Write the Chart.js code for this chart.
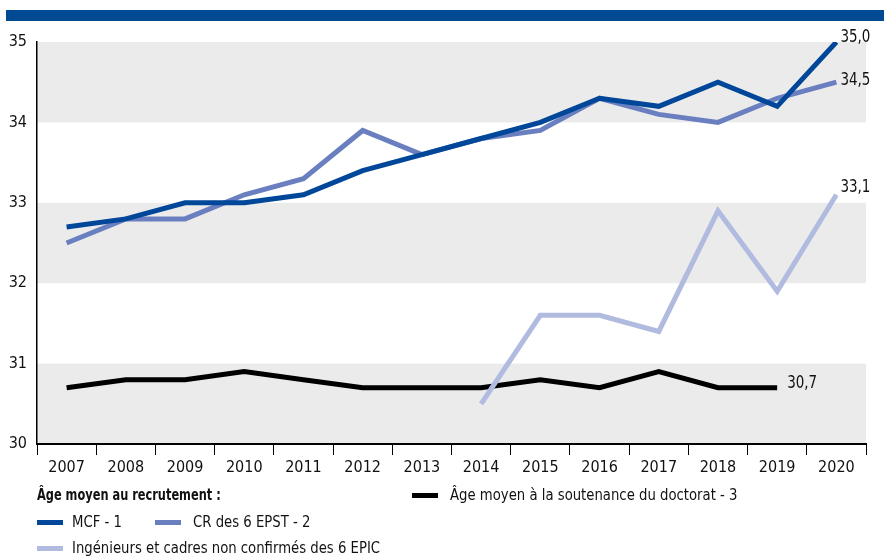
<!DOCTYPE html>
<html>
<head>
<meta charset="utf-8">
<script src="https://cdn.jsdelivr.net/npm/chart.js@4.4.1/dist/chart.umd.min.js"></script>
<style>
  body { margin:0; width:884px; height:557px; position:relative; overflow:hidden; background:#fff;
         font-family:'DejaVu Sans Condensed','Liberation Sans Narrow',sans-serif; color:#111; }
  #topbar { position:absolute; left:6px; top:10px; width:878px; height:11px; background:#004a94; }
  #c { position:absolute; left:0; top:0; }
  .lg { position:absolute; font-size:16px; line-height:20px; white-space:nowrap; transform-origin:0 50%; transform:scaleX(0.92); }
  .lg.b { font-weight:bold; transform:scaleX(0.79); }
  .sw { position:absolute; width:26px; height:5px; }
</style>
</head>
<body>
<div id="topbar"></div>
<canvas id="c" width="884" height="557"></canvas>

<div class="lg b" style="left:37px;top:485px;">Âge moyen au recrutement :</div>
<div class="sw" style="left:412px;top:493px;background:#000;"></div>
<div class="lg" style="left:450px;top:485px;">Âge moyen à la soutenance du doctorat - 3</div>

<div class="sw" style="left:37px;top:520px;background:#00479a;"></div>
<div class="lg" style="left:72px;top:512px;">MCF - 1</div>
<div class="sw" style="left:155px;top:520px;background:#6a7fc0;"></div>
<div class="lg" style="left:193px;top:512px;">CR des 6 EPST - 2</div>

<div class="sw" style="left:37px;top:546px;background:#b1badf;"></div>
<div class="lg" style="left:72px;top:538px;">Ingénieurs et cadres non confirmés des 6 EPIC</div>

<script>
const years = ['2007','2008','2009','2010','2011','2012','2013','2014','2015','2016','2017','2018','2019','2020'];
const mcf        = [32.7, 32.8, 33.0, 33.0, 33.1, 33.4, 33.6, 33.8, 34.0, 34.3, 34.2, 34.5, 34.2, 35.0];
const crEpst     = [32.5, 32.8, 32.8, 33.1, 33.3, 33.9, 33.6, 33.8, 33.9, 34.3, 34.1, 34.0, 34.3, 34.5];
const ingEpic    = [null, null, null, null, null, null, null, 30.5, 31.6, 31.6, 31.4, 32.9, 31.9, 33.1];
const doctorat   = [30.7, 30.8, 30.8, 30.9, 30.8, 30.7, 30.7, 30.7, 30.8, 30.7, 30.9, 30.7, 30.7, null];
const yTicks     = [30, 31, 32, 33, 34, 35];
const greyBands  = [[30, 31], [32, 33], [34, 35]];

const FONT = "'DejaVu Sans Condensed','Liberation Sans Narrow',sans-serif";

const bandPlugin = {
  id: 'bands',
  beforeDraw(chart) {
    const { ctx, chartArea, scales } = chart;
    ctx.save();
    ctx.fillStyle = '#ebebeb';
    greyBands.forEach(([a, b]) => {
      const y1 = scales.y.getPixelForValue(b);
      const y2 = scales.y.getPixelForValue(a);
      ctx.fillRect(chartArea.left, y1, chartArea.right - chartArea.left, y2 - y1);
    });
    ctx.restore();
  }
};

const endLabelPlugin = {
  id: 'endLabels',
  afterDatasetsDraw(chart) {
    const { ctx } = chart;
    ctx.save();
    ctx.font = "17px " + FONT;
    ctx.fillStyle = '#111';
    ctx.textBaseline = 'middle';
    ctx.textAlign = 'left';
    chart.data.datasets.forEach((ds, i) => {
      let last = -1;
      ds.data.forEach((v, j) => { if (v !== null) last = j; });
      if (last < 0) return;
      const pt = chart.getDatasetMeta(i).data[last];
      const txt = ds.data[last].toFixed(1).replace('.', ',');
      const off = ds.endLabelOffset || [5, -5];
      ctx.save();
      ctx.translate(pt.x + off[0], pt.y + off[1]);
      ctx.scale(0.88, 1);
      ctx.fillText(txt, 0, 0);
      ctx.restore();
    });
    ctx.restore();
  }
};

const common = { borderWidth: 5, pointRadius: 0, pointHoverRadius: 0, tension: 0, fill: false,
                 borderJoinStyle: 'miter', borderCapStyle: 'butt', spanGaps: false };

new Chart(document.getElementById('c'), {
  type: 'line',
  data: {
    labels: years,
    datasets: [
      { ...common, label: 'MCF - 1', data: mcf, borderColor: '#00479a', order: 0, endLabelOffset: [4, -4] },
      { ...common, label: 'Ingénieurs et cadres non confirmés des 6 EPIC', data: ingEpic, borderColor: '#b1badf', order: 1, endLabelOffset: [4, -7] },
      { ...common, label: 'CR des 6 EPST - 2', data: crEpst, borderColor: '#6a7fc0', order: 2, endLabelOffset: [4, -2] },
      { ...common, label: 'Âge moyen à la soutenance du doctorat - 3', data: doctorat, borderColor: '#000000', order: 3, endLabelOffset: [10, -4] }
    ]
  },
  options: {
    responsive: false,
    animation: false,
    devicePixelRatio: 1,
    layout: { padding: { top: 42, right: 18, left: 0, bottom: 83 } },
    plugins: { legend: { display: false }, tooltip: { enabled: false } },
    scales: {
      x: {
        type: 'category',
        offset: true,
        grid: { offset: true, drawOnChartArea: false, drawTicks: true, tickLength: 11, color: '#000', lineWidth: 1 },
        border: { display: true, color: '#000', width: 2 },
        ticks: { color: '#111', font: { size: 16, family: FONT }, padding: 3, maxRotation: 0, autoSkip: false },
        afterFit: s => { s.height = 30; }
      },
      y: {
        min: 30, max: 35,
        afterBuildTicks: s => { s.ticks = yTicks.map(v => ({ value: v })); },
        grid: { display: false, drawTicks: false },
        border: { display: true, color: '#000', width: 1.5 },
        ticks: { color: '#111', font: { size: 16, family: FONT }, padding: 10 },
        afterFit: s => { s.width = 37; }
      }
    }
  },
  plugins: [bandPlugin, endLabelPlugin]
});
</script>
</body>
</html>
